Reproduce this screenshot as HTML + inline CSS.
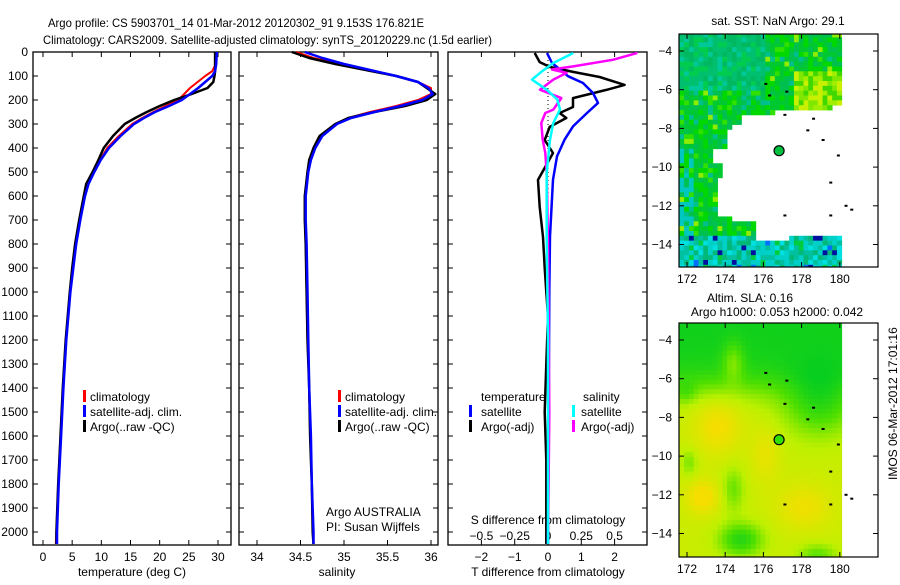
<!DOCTYPE html>
<html><head><meta charset="utf-8"><style>
html,body{margin:0;padding:0;background:#fff;}
svg text{font-family:"Liberation Sans",sans-serif;font-size:12px;fill:#000;}
</style></head><body>
<svg id="fig" width="900" height="580" viewBox="0 0 900 580" xmlns="http://www.w3.org/2000/svg">
<rect x="0" y="0" width="900" height="580" fill="#fff"/>
<text x="48" y="27" textLength="376" lengthAdjust="spacingAndGlyphs" font-size="13">Argo profile: CS 5903701_14 01-Mar-2012 20120302_91 9.153S 176.821E</text>
<text x="43" y="44" textLength="449" lengthAdjust="spacingAndGlyphs" font-size="13">Climatology: CARS2009. Satellite-adjusted climatology: synTS_20120229.nc (1.5d earlier)</text>
<g id="panels"></g>
<g id="maps"></g>
<text transform="translate(897,480) rotate(-90)">IMOS 06-Mar-2012 17:01:16</text>
</svg>
<script>
// ---------- data ----------
const tDepth=[0,50,80,100,125,150,175,200,225,250,275,300,350,400,450,500,550,600,700,800,900,1000,1200,1400,1600,1800,2000,2050];
const tArgo=[29.5,29.5,29.5,29.4,29.2,28.2,25.5,22.5,20,17.8,15.8,14,12,10.4,9.5,8.5,7.4,7.0,6.2,5.5,5.0,4.6,3.9,3.4,3.0,2.6,2.3,2.3];
const tClim=[29.7,29.6,29.0,27.8,26.5,25.2,24.2,23.2,21.0,18.9,17.0,15.3,13.0,11.0,9.8,8.7,7.8,7.2,6.3,5.6,5.1,4.6,3.9,3.4,3.0,2.6,2.3,2.2];
const tSat=[29.8,29.7,29.5,29.0,27.8,26.6,25.2,23.8,21.6,19.2,17.3,15.6,13.3,11.3,9.9,8.8,7.8,7.2,6.4,5.7,5.2,4.7,4.0,3.5,3.1,2.7,2.4,2.4];
const sDepth=[0,25,50,75,100,125,150,175,200,225,250,275,300,350,400,450,500,600,700,800,1000,1200,1400,1600,1800,2000,2050];
const sArgo=[34.4,34.6,34.9,35.25,35.6,35.85,35.95,36.05,35.95,35.7,35.35,35.05,34.9,34.72,34.65,34.6,34.58,34.55,34.55,34.56,34.57,34.58,34.6,34.61,34.63,34.64,34.65];
const sClim=[34.45,34.65,34.95,35.3,35.6,35.85,36.0,36.0,35.85,35.6,35.3,35.05,34.9,34.74,34.66,34.61,34.58,34.55,34.55,34.56,34.57,34.58,34.6,34.61,34.63,34.64,34.65];
const sSat=[34.55,34.75,35.0,35.3,35.6,35.85,35.97,36.02,35.9,35.65,35.35,35.08,34.92,34.75,34.67,34.62,34.59,34.56,34.56,34.57,34.58,34.59,34.6,34.62,34.63,34.65,34.65];
const dtArgoDepth=[4,42,62,83,104,137,158,192,229,254,275,312,367,421,533,646,771,900,1000,1100,1300,1500,1700,1900,2050];
const dtArgo=[-0.4,-0.25,0.05,0.75,1.55,2.3,1.75,0.75,0.75,0.35,0.55,0.05,-0.1,0.15,-0.3,-0.25,-0.15,-0.1,-0.05,0,-0.05,-0.1,-0.05,-0.05,-0.05];
const dtSatDepth=[4,46,73,101,129,171,212,254,310,365,435,532,768,1000,1500,2050];
const dtSat=[-0.03,0.12,0.36,0.6,1.05,1.35,1.5,1.17,0.75,0.5,0.27,0.15,0.06,0.04,0.02,0.0];
const dsSatDepth=[4,46,87,115,157,198,240,296,365,504,768,1200,2050];
const dsSat=[0.19,0.04,-0.06,-0.12,-0.01,0.07,0.09,0.04,0.015,-0.01,-0.01,0,0];
const dsArgoDepth=[4,32,60,73,87,115,157,192,240,254,296,365,421,504,800,1500,2050];
const dsArgo=[0.67,0.49,0.19,0.03,0.14,0.04,-0.06,0.1,0.04,-0.02,-0.05,-0.04,-0.02,-0.01,0,0.01,0];
const depthTicks=[0,100,200,300,400,500,600,700,800,900,1000,1100,1200,1300,1400,1500,1600,1700,1800,1900,2000];
const tTicks=[0,5,10,15,20,25,30];
const sTicks=[34,34.5,35,35.5,36];
const dTTicks=[-2,-1,0,1,2];
const dSTicks=[-0.5,-0.25,0,0.25,0.5];
const latTicks=[-4,-6,-8,-10,-12,-14];
const lonTicks=[172,174,176,178,180];
const argoLon=176.821, argoLat=-9.153;

const NS='http://www.w3.org/2000/svg';
function mk(tag,attrs,parent,txt){const e=document.createElementNS(NS,tag);for(const k in attrs)e.setAttribute(k,attrs[k]);if(txt!==undefined)e.textContent=txt;parent.appendChild(e);return e;}
const P=document.getElementById('panels');
const yTop=52,yBot=545;
const yD=d=>yTop+d*0.24;
const xT=v=>43+v*5.833;
const xS=v=>257+(v-34)*87;
const xDT=v=>548+v*33.3;
const xDS=v=>548+v*133.2;
const panels=[[33,231],[239,438],[448,647]];

function frame(x0,x1,name){
  const r=mk('rect',{x:x0,y:yTop,width:x1-x0,height:yBot-yTop,fill:'none',stroke:'#000','stroke-width':1.3},P);
  
  
  depthTicks.forEach(d=>{
    mk('line',{x1:x0,x2:x0+5,y1:yD(d),y2:yD(d),stroke:'#000'},P);
    mk('line',{x1:x1,x2:x1-5,y1:yD(d),y2:yD(d),stroke:'#000'},P);
  });
}
function xticks(ticks,f,ty,name,inside){
  ticks.forEach(v=>{
    const x=f(v);
    mk('line',{x1:x,x2:x,y1:yTop,y2:yTop+5,stroke:'#000'},P);
    mk('line',{x1:x,x2:x,y1:yBot,y2:yBot-5,stroke:'#000'},P);
    const t=mk('text',{x:x,y:ty,'text-anchor':'middle'},P,String(v).replace('-','\u2212'));
    
    
  });
}
function line(xs,ds,fx,color,w,name){
  const pts=xs.map((v,i)=>fx(v).toFixed(1)+','+yD(ds[i]).toFixed(1)).join(' ');
  const p=mk('polyline',{points:pts,fill:'none',stroke:color,'stroke-width':w,'stroke-linejoin':'round'},P);
  
  
}
panels.forEach((p,i)=>frame(p[0],p[1],['temperature-panel','salinity-panel','difference-panel'][i]));
// depth labels
depthTicks.forEach(d=>{
  const t=mk('text',{x:28,y:yD(d)+4,'text-anchor':'end'},P,String(d));
  
  
});
xticks(tTicks,xT,561,'temperature-tick-label');
xticks(sTicks,xS,561,'salinity-tick-label');
xticks(dTTicks,xDT,561,'t-diff-tick-label');
dSTicks.forEach(v=>{
  const t=mk('text',{x:xDS(v),y:540,'text-anchor':'middle'},P,String(v).replace('-','\u2212'));
  
  
});
function label(x,y,s,name,anchor){const t=mk('text',{x:x,y:y,'text-anchor':anchor||'middle'},P,s);}
label(132,576,'temperature (deg C)','x-axis-title-temperature');
label(337,576,'salinity','x-axis-title-salinity');
label(548,576,'T difference from climatology','x-axis-title-t-diff');
label(548,524,'S difference from climatology','s-diff-axis-title');
label(326,516,'Argo AUSTRALIA','institution-label','start');
label(326,531,'PI: Susan Wijffels','pi-label','start');
// zero dotted line
mk('line',{x1:548,x2:548,y1:yTop,y2:yBot,stroke:'#000','stroke-dasharray':'1,3'},P);
// series
line(tClim,tDepth,xT,'#ff0000',2,'temperature-climatology-line');
line(tArgo,tDepth,xT,'#000',2.5,'temperature-argo-line');
line(tSat,tDepth,xT,'#0000ff',2.5,'temperature-satellite-line');
line(sClim,sDepth,xS,'#ff0000',2,'salinity-climatology-line');
line(sArgo,sDepth,xS,'#000',2.5,'salinity-argo-line');
line(sSat,sDepth,xS,'#0000ff',2.5,'salinity-satellite-line');
line(dtArgo,dtArgoDepth,xDT,'#000',2.5,'t-diff-argo-line');
line(dtSat,dtSatDepth,xDT,'#0000ff',2.5,'t-diff-satellite-line');
line(dsArgo,dsArgoDepth,xDS,'#ff00ff',2.5,'s-diff-argo-line');
line(dsSat,dsSatDepth,xDS,'#00ffff',2.5,'s-diff-satellite-line');
// legends
function legend(bx,tx,y,color,s,name){
  mk('rect',{x:bx,y:y-7,width:3,height:12,fill:color},P);
  const t=mk('text',{x:tx,y:y+4},P,s);
  
  
}
[[83,90],[338,345]].forEach((b,i)=>{
  legend(b[0],b[1],397,'#ff0000','climatology','legend-climatology');
  legend(b[0],b[1],412,'#0000ff','satellite-adj. clim.','legend-satellite-adj');
  legend(b[0],b[1],427,'#000','Argo(..raw -QC)','legend-argo');
});
label(481,401,'temperature','legend-title-temperature','start');
label(583,401,'salinity','legend-title-salinity','start');
legend(469,481,412,'#0000ff','satellite','legend-t-satellite');
legend(469,481,427,'#000','Argo(-adj)','legend-t-argo');
legend(572,581,412,'#00ffff','satellite','legend-s-satellite');
legend(572,581,427,'#ff00ff','Argo(-adj)','legend-s-argo');

// ---------- maps ----------
const M=document.getElementById('maps');
function hash(i,j){let h=(i*374761393+j*668265263)>>>0;h=((h^(h>>>13))*1274126177)>>>0;return (h%1000)/1000;}
function mapAxes(y0,y1,name){
  const lx=lon=>687+(lon-172)*19.1;
  const ly=lat=>(y0+17)+(-4-lat)*19.35;
  return {lx,ly};
}
function inPoly(x,y,poly){let c=false;for(let i=0,j=poly.length-1;i<poly.length;j=i++){const [xi,yi]=poly[i],[xj,yj]=poly[j];if(((yi>y)!=(yj>y))&&(x<(xj-xi)*(y-yi)/(yj-yi)+xi))c=!c;}return c;}
const holeZ=[[275,345],[580,320],[580,712],[415,712],[415,728],[320,728],[320,665],[245,665],[245,655],[200,655],[200,535],[215,535],[215,490],[190,490],[190,450],[230,450],[230,395],[275,365]];
const hole=holeZ.map(p=>[650+p[0]/3,p[1]/3]);
function drawMap(y0,y1,kind){
  const g=mk('g',{},M);
  
  
  const {lx,ly}=mapAxes(y0,y1);
  const cw=0.25*19.1,ch=0.25*19.35;
  for(let lon=171.6;lon<180.1;lon+=0.25){
    for(let lat=-3.05;lat>-15.3;lat-=0.25){
      const x=lx(lon),y=ly(lat);
      if(y>y1||y+ch<y0) continue;
      const cx=x+cw/2,cy=y+ch/2;
      const i=Math.round(lon*4),j=Math.round(-lat*4);
      let col;
      if(kind==='sst'){
        if(inPoly(cx,cy,hole)) continue;
        const r=hash(i,j);
        if(lat<-13.4){col=r<0.35?'#00d0c8':r<0.55?'#00c0a0':r<0.7?'#00b878':r<0.8?'#00e0e0':r<0.88?'#00cc40':r<0.94?'#0070ff':'#0010a0';}
        else if(lon>177.5&&lat<-5&&lat>-7.6){col=r<0.3?'#c8f000':r<0.55?'#a0ee00':r<0.75?'#80e800':'#40d800';if(lat<-7.2&&lon<179.3)col='#e8f000';}
        else if(lon<176&&lat>-6){col=r<0.35?'#00c070':r<0.6?'#00b860':r<0.8?'#00c898':'#00cc50';}
        else {col=r<0.3?'#00c830':r<0.55?'#00d800':r<0.75?'#00c050':r<0.85?'#30e000':r<0.92?'#00c090':'#90ec00';}
        if(lon<172.2&&lat<-9&&lat>-13.5&&r<0.4)col='#00c8c0';
      } else {
        const gs=(a,b,sa,sb)=>Math.exp(-((lon-a)**2/(2*sa*sa)+(lat-b)**2/(2*sb*sb)));
        let v=0.72-0.65/(1+Math.exp(-(lat+6.3)*1.8))-0.45*gs(178.8,-7.2,1.3,1.2)
          +0.3*gs(173.5,-8.3,0.9,1)+0.35*gs(172.7,-12,0.6,0.6)+0.25*gs(178,-12.5,1,0.8)+0.2*gs(176,-9.8,0.5,1)
          -0.55*gs(174.7,-14.2,0.8,0.6)-0.35*gs(178.7,-15,0.7,0.4)-0.3*gs(174.3,-11.6,0.4,0.8)+0.35*gs(174.3,-5.0,0.4,0.7)
          -0.25*gs(172,-10.2,0.3,0.5)-0.2*gs(171.8,-6.6,0.4,0.4);
        v=Math.max(0,Math.min(1,v));
        const stops=[[0,[0,204,34]],[0.35,[80,224,0]],[0.65,[190,240,0]],[1,[245,222,0]]];
        let k=0;while(k<stops.length-2&&v>stops[k+1][0])k++;
        const a=stops[k],b=stops[k+1],t=(v-a[0])/(b[0]-a[0]);
        col='rgb('+a[1].map((c,q)=>Math.round(c+(b[1][q]-c)*t)).join(',')+')';
      }
      const yy=Math.max(y,y0),hh=Math.min(y+ch,y1)-yy;
      mk('rect',{x:x.toFixed(2),y:yy.toFixed(2),width:(cw+0.4).toFixed(2),height:(hh+0.4).toFixed(2),fill:col},g);
    }
  }
  // coast specks
  [[176.1,-5.7],[176.3,-6.3],[177.2,-6.1],[177.1,-7.3],[178.6,-7.5],[178.3,-8.1],[179.1,-8.6],[179.9,-9.4],[179.5,-10.8],[180.3,-12],[180.6,-12.2],[177.1,-12.5],[179.5,-12.5]].forEach(p=>{
    mk('rect',{x:lx(p[0])-1,y:ly(p[1])-1,width:3,height:2,fill:'#000'},g);
  });
  const box=mk('rect',{x:679,y:y0,width:199,height:y1-y0,fill:'none',stroke:'#000','stroke-width':1.2},M);
  
  
  latTicks.forEach(l=>{
    const y=ly(l);
    mk('line',{x1:679,x2:684,y1:y,y2:y,stroke:'#000'},M);
    mk('line',{x1:878,x2:873,y1:y,y2:y,stroke:'#000'},M);
    const t=mk('text',{x:672,y:y+4,'text-anchor':'end'},M,String(l).replace('-','\u2212'));
    
    
  });
  lonTicks.forEach(l=>{
    const x=lx(l);
    mk('line',{x1:x,x2:x,y1:y0,y2:y0+5,stroke:'#000'},M);
    mk('line',{x1:x,x2:x,y1:y1,y2:y1-5,stroke:'#000'},M);
    const t=mk('text',{x:x,y:y1+16,'text-anchor':'middle'},M,String(l));
    
    
  });
  const c=mk('circle',{cx:lx(argoLon),cy:ly(argoLat),r:5,fill:kind==='sst'?'#00c040':'#30e000',stroke:'#000','stroke-width':1.2},M);
  
  
}
drawMap(34,267,'sst');
drawMap(323,557,'sla');
function mtitle(x,y,s,name){const t=mk('text',{x:x,y:y,'text-anchor':'middle'},M,s);}
mtitle(778,25,'sat. SST: NaN Argo: 29.1','sst-map-title');
mtitle(750,302,'Altim. SLA: 0.16','sla-map-title');
mtitle(777,316,'Argo h1000: 0.053 h2000: 0.042','argo-height-title');
</script>
</body></html>
